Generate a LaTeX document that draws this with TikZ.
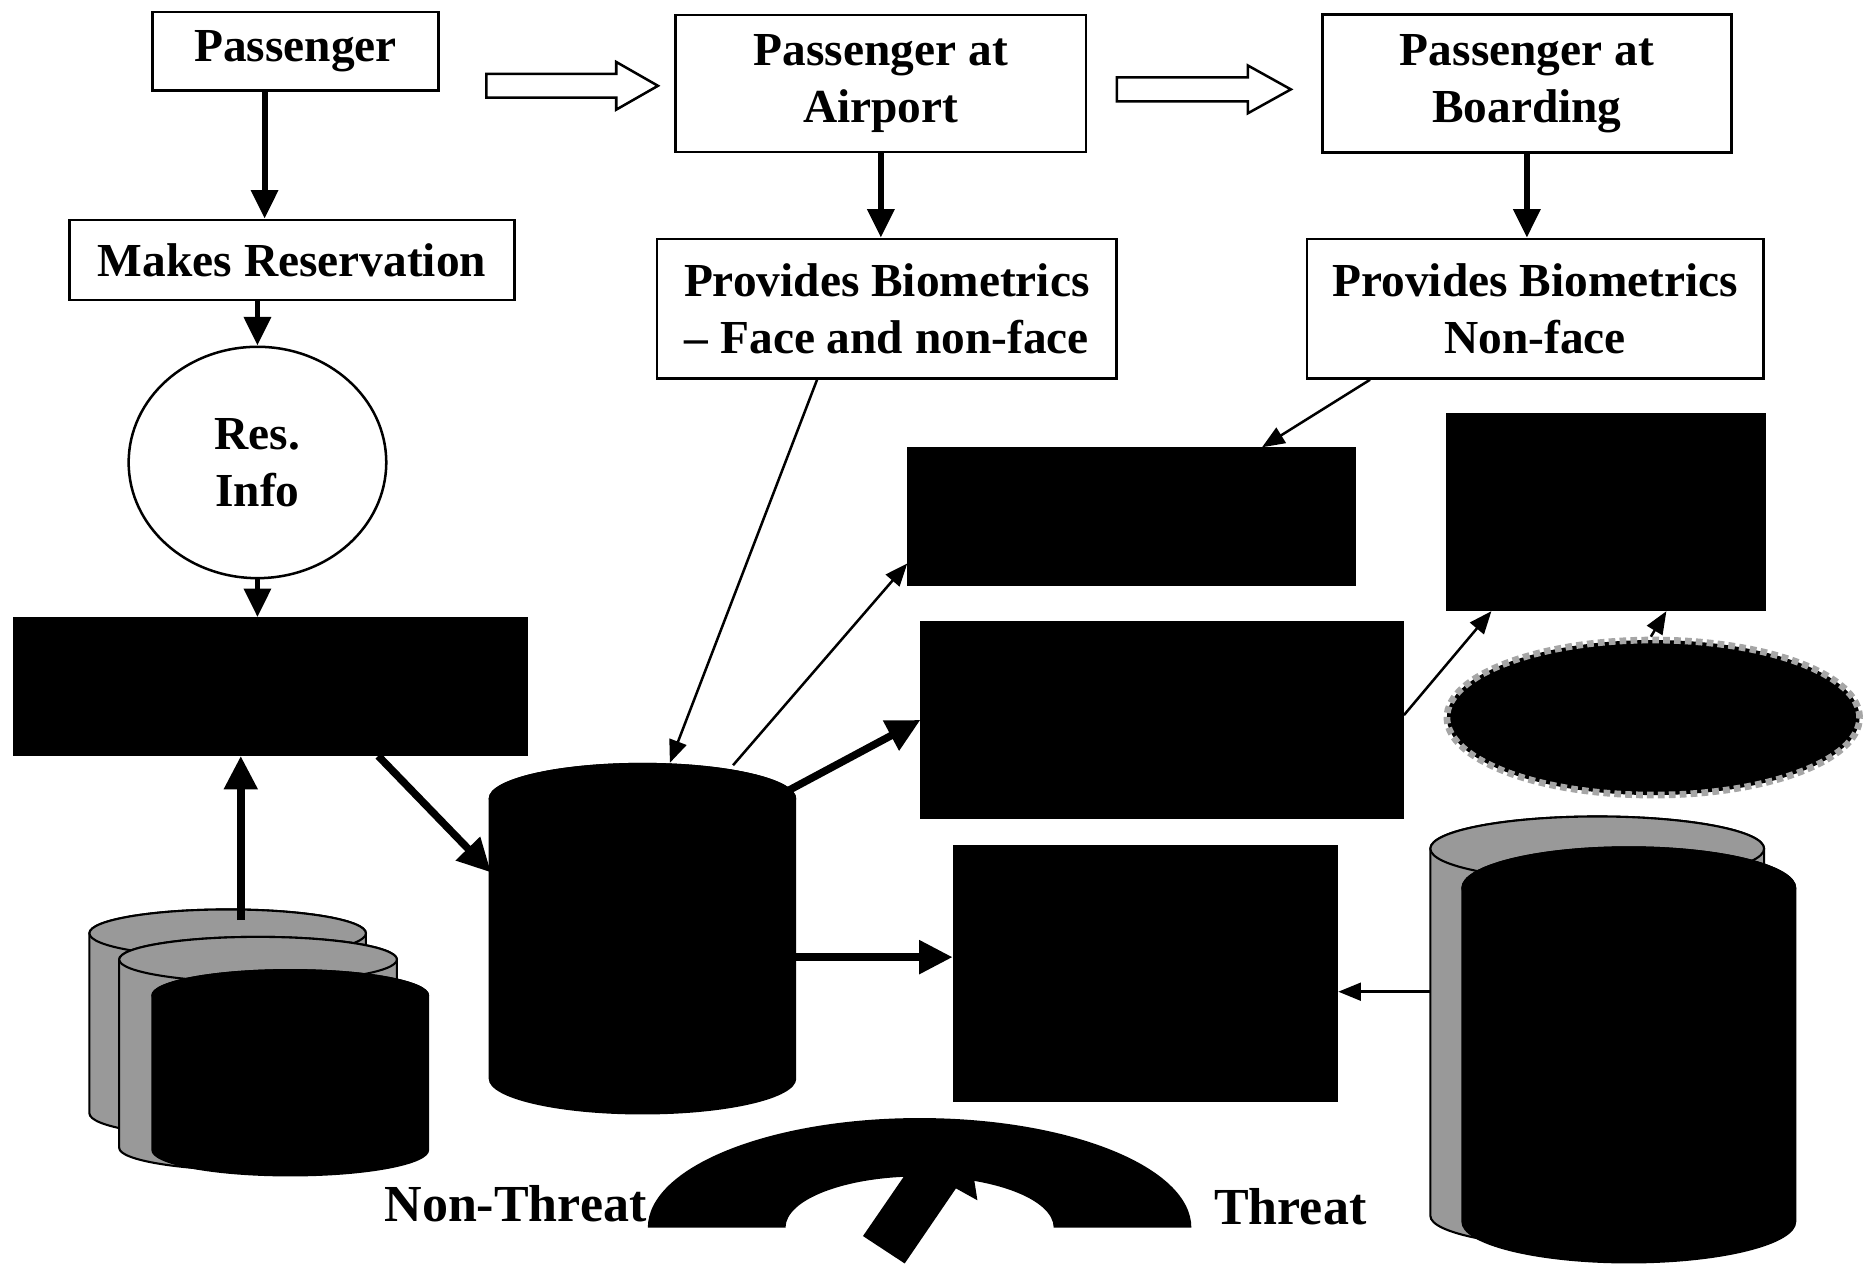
\documentclass[tikz,border=0pt]{standalone}
\usepackage{fontspec}
\setmainfont{Liberation Serif}
\usetikzlibrary{arrows.meta,shapes.geometric}

% side and top of one drum: style, centre x, x radius, top y, bottom y, y radius
\newcommand\drum[6]{%
  \path[#1] (#2-#3,#4) -- (#2-#3,#5)
    arc[start angle=180,end angle=360,x radius=#3,y radius=#6]
    -- (#2+#3,#4)
    arc[start angle=0,end angle=180,x radius=#3,y radius=#6] -- cycle;
  \path[#1] (#2,#4) ellipse[x radius=#3,y radius=#6];}

\begin{document}
\begin{tikzpicture}[x=0.01cm,y=0.01cm,
	font=\fontsize{11.3}{13.6}\selectfont\bfseries,
	main box/.style={draw,line width=0.6pt,align=center,inner sep=0pt},
	dark box/.style={draw=black,fill=black,inner sep=0pt},
	down arrow/.style={->,line width=1.4pt,>={Triangle[length=0.24cm,width=0.22cm]}},
	heavy arrow/.style={->,line width=1.8pt,>={Triangle[length=0.28cm,width=0.27cm]}},
	thin arrow/.style={->,line width=0.6pt,>={Triangle[length=0.19cm,width=0.15cm]}},
	block arrow/.style={draw,fill=white,line width=0.6pt},
	grey drum/.style={draw=black,fill=black!40,line width=0.5pt},
	dark drum/.style={fill=black}]
	
	\useasboundingbox (0,0) rectangle (1568,1060);
	
	% top row
	\node[main box,minimum width=2.40cm,minimum height=0.66cm] (pax) at (248,1017) {Passenger};
	\node[main box,minimum width=3.44cm,minimum height=1.15cm] (airport) at (739,990) {Passenger at\\Airport};
	\node[main box,minimum width=3.43cm,minimum height=1.16cm] (boarding) at (1281,990) {Passenger at\\Boarding};
	\path[block arrow] (408,978) -- (517,978) -- (517,968) -- (552,988) -- (517,1008) -- (517,998) -- (408,998) -- cycle;
	\path[block arrow] (937,975) -- (1047,975) -- (1047,965) -- (1083,985) -- (1047,1005) -- (1047,995) -- (937,995) -- cycle;
	
	% second row
	\node[main box,minimum width=3.73cm,minimum height=0.67cm] (resv) at (245,842) {Makes Reservation};
	\node[main box,minimum width=3.85cm,minimum height=1.17cm] (bioface) at (744,801) {Provides Biometrics\\-- Face and non-face};
	\node[main box,minimum width=3.83cm,minimum height=1.17cm] (biononface) at (1288,801) {Provides Biometrics\\Non-face};
	\node[ellipse,draw,fill=white,line width=0.6pt,align=center,inner sep=0pt,
		minimum width=2.16cm,minimum height=1.94cm] (resinfo) at (216,672) {Res.\\Info};
	
	% black boxes
	\node[dark box,minimum width=4.30cm,minimum height=1.15cm] (rect1) at (227,484) {};
	\node[dark box,minimum width=3.75cm,minimum height=1.15cm] (rect2) at (949.5,626.5) {};
	\node[dark box,minimum width=4.04cm,minimum height=1.64cm] (rect3) at (975,456) {};
	\node[dark box,minimum width=3.22cm,minimum height=2.14cm] (rect4) at (961,243) {};
	\node[dark box,minimum width=2.67cm,minimum height=1.65cm] (rect5) at (1347.5,630.5) {};
	\node[ellipse,fill=black,draw=black!35,line width=1.6pt,densely dotted,inner sep=0pt,
		minimum width=3.46cm,minimum height=1.30cm] (alarm) at (1387,458) {};
	
	% drums
	\drum{grey drum}{191}{116}{277}{126}{20}
	\drum{grey drum}{216.5}{116.5}{255}{97}{19}
	\drum{dark drum}{243.5}{116.5}{225}{95}{22}
	\drum{dark drum}{539}{129}{390}{155}{30}
	\drum{grey drum}{1340}{140}{348}{40}{27}
	\drum{dark drum}{1366.5}{140.5}{315}{35}{35}
	
	\coordinate (stack top) at (202,288);
	\coordinate (db in) at (412,328);
	\coordinate (db top) at (562,420);
	\coordinate (db out) at (615,418);
	\coordinate (db side) at (660,396);
	\coordinate (db east) at (668,257);
	\coordinate (rstack side) at (1200,228);
	\coordinate (pax out) at ([xshift=-0.26cm]pax.south);
	\coordinate (rect1 out) at ([xshift=3.06cm]rect1.south west);
	
	% gauge
	\fill (543.5,30) arc[start angle=180,end angle=0,x radius=228,y radius=92]
		-- (884,30) arc[start angle=0,end angle=180,x radius=112.5,y radius=43] -- cycle;
	\fill (724,23) -- (770,90) -- (815,85) -- (820,53) -- (802,63) -- (759,0) -- cycle;
	\node[anchor=base east,inner sep=0pt,font=\fontsize{12.4}{14}\selectfont\bfseries] (nonthreat) at (543,35) {Non-Threat};
	\node[anchor=base west,inner sep=0pt,font=\fontsize{12.4}{14}\selectfont\bfseries] (threat) at (1018,33) {Threat};
	
	% connectors
	\draw[down arrow] (pax out) -- (pax out |- resv.north);
	\draw[down arrow] (airport.south) -- (airport.south |- bioface.north);
	\draw[down arrow] (boarding.south) -- (boarding.south |- biononface.north);
	\draw[down arrow] (resinfo.north |- resv.south) -- (resinfo.north);
	\draw[down arrow] (resinfo.south) -- (resinfo.south |- rect1.north);
	\draw[heavy arrow] (stack top) -- (stack top |- rect1.south);
	\draw[heavy arrow] (rect1 out) -- (db in);
	\draw[heavy arrow] (db side) -- (rect3.west);
	\draw[heavy arrow] (db east) -- (db east -| rect4.west);
	\draw[thin arrow] ([xshift=-0.585cm]bioface.south) -- (db top);
	\draw[thin arrow] (db out) -- ([yshift=0.19cm]rect2.south west);
	\draw[thin arrow] ([xshift=-1.385cm]biononface.south) -- ([xshift=-0.79cm]rect2.north east);
	\draw[thin arrow] ([yshift=0.04cm]rect3.east) -- ([xshift=0.38cm]rect5.south west);
	\draw[thin arrow] ([xshift=-0.02cm]alarm.north) -- ([xshift=0.505cm]rect5.south);
	\draw[thin arrow] (rstack side) -- (rstack side -| rect4.east);
	
\end{tikzpicture}
\end{document}
